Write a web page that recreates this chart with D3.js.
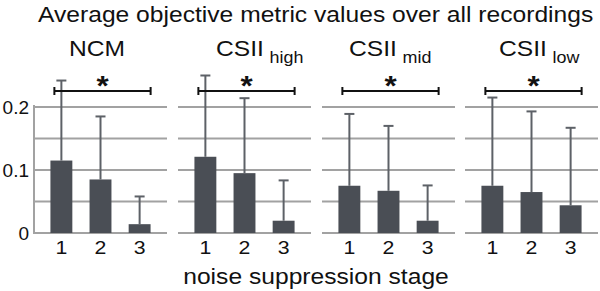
<!DOCTYPE html>
<html>
<head>
<meta charset="utf-8">
<script src="https://cdn.jsdelivr.net/npm/d3@7"></script>
<style>
  body { margin: 0; background: #fff; }
  text { font-family: "Liberation Sans", Arial, Helvetica, sans-serif; fill: #111; }
</style>
</head>
<body>
<div id="container"></div>
<script>
// data
const stages = ["1", "2", "3"];
const metrics = ["NCM", "CSII", "CSII", "CSII"];
const subscripts = ["", "high", "mid", "low"];
const ncmMeans = [0.115, 0.085, 0.014];
const ncmErr = [0.127, 0.100, 0.044];
const highMeans = [0.121, 0.095, 0.0195];
const highErr = [0.129, 0.119, 0.064];
const midMeans = [0.075, 0.067, 0.0195];
const midErr = [0.114, 0.103, 0.056];
const lowMeans = [0.075, 0.065, 0.044];
const lowErr = [0.140, 0.128, 0.123];
const gridTicks = [0, 0.05, 0.1, 0.15, 0.2];
const labelTicks = [0, 0.1, 0.2];

const panels = [
  {means: ncmMeans, err: ncmErr},
  {means: highMeans, err: highErr},
  {means: midMeans, err: midErr},
  {means: lowMeans, err: lowErr}
];

const width = 600, height = 291;
const panelX = [34, 178, 322, 465];
const panelW = 133;
const titleX = [69, 216, 349, 499];
const stretch = 1.12; // the original text looks a bit wide

const svg = d3.select("#container").append("svg")
  .attr("width", width)
  .attr("height", height);

// text placed at x,y and stretched horizontally
function label(parent, x, y, str, size, anchor, sx) {
  return parent.append("g")
    .attr("transform", `translate(${x},${y}) scale(${sx || stretch},1)`)
    .append("text")
    .attr("text-anchor", anchor || "start")
    .style("font-size", size + "px")
    .text(str);
}

const y = d3.scaleLinear().domain([0, 0.2]).range([233, 107]);

const x = d3.scaleBand()
  .domain(stages)
  .range([0, panelW])
  .paddingInner(0.44)
  .paddingOuter(0.42);

label(svg, 38, 22, "Average objective metric values over all recordings", 22);
label(svg, 316, 284, "noise suppression stage", 22, "middle");

// y tick labels on first panel only
labelTicks.forEach(d => {
  label(svg, 29, y(d) + 7, d3.format("")(d), 19, "end", 1);
});

panels.forEach((p, i) => {
  const g = svg.append("g").attr("transform", `translate(${panelX[i]},0)`);

  // gridlines
  g.selectAll(".grid")
    .data(gridTicks)
    .enter().append("line")
    .attr("x1", 0).attr("x2", panelW)
    .attr("y1", d => y(d)).attr("y2", d => y(d))
    .attr("stroke", "#a2a2a2")
    .attr("stroke-width", 2);

  if (i === 0) {
    g.append("line")
      .attr("x1", 0).attr("x2", 0)
      .attr("y1", y(0.2) - 2).attr("y2", y(0) + 1)
      .attr("stroke", "#a2a2a2")
      .attr("stroke-width", 2);
  }

  const cx = d => x(d) + x.bandwidth() / 2;

  // error bars
  g.selectAll(".err")
    .data(stages)
    .enter().append("line")
    .attr("x1", cx).attr("x2", cx)
    .attr("y1", (d, j) => y(p.means[j]))
    .attr("y2", (d, j) => y(p.means[j] + p.err[j]))
    .attr("stroke", "#5d6167")
    .attr("stroke-width", 2);

  g.selectAll(".cap")
    .data(stages)
    .enter().append("line")
    .attr("x1", d => cx(d) - 5).attr("x2", d => cx(d) + 5)
    .attr("y1", (d, j) => y(p.means[j] + p.err[j]))
    .attr("y2", (d, j) => y(p.means[j] + p.err[j]))
    .attr("stroke", "#5d6167")
    .attr("stroke-width", 2);

  // bars
  g.selectAll(".bar")
    .data(stages)
    .enter().append("rect")
    .attr("x", d => x(d))
    .attr("y", (d, j) => y(p.means[j]))
    .attr("width", x.bandwidth())
    .attr("height", (d, j) => y(0) - y(p.means[j]))
    .attr("fill", "#4a4e55");

  // x labels
  stages.forEach(d => label(g, cx(d), 254, d, 19, "middle"));

  // significance bracket
  const bx1 = cx("1") - 7, bx2 = cx("3") + 11, by = 91;
  g.append("path")
    .attr("d", `M${bx1},${by - 4}V${by + 4}M${bx1},${by}H${bx2}M${bx2},${by - 4}V${by + 4}`)
    .attr("fill", "none")
    .attr("stroke", "#111")
    .attr("stroke-width", 2);
  label(g, (bx1 + bx2) / 2, 95, "*", 28, "middle")
    .style("font-weight", "bold");

  // panel title
  const t = label(svg, titleX[i], 56, metrics[i], 22);
  if (subscripts[i]) {
    t.append("tspan")
      .attr("dx", 5).attr("dy", 7)
      .style("font-size", "16px")
      .text(subscripts[i]);
  }
});
</script>
</body>
</html>
